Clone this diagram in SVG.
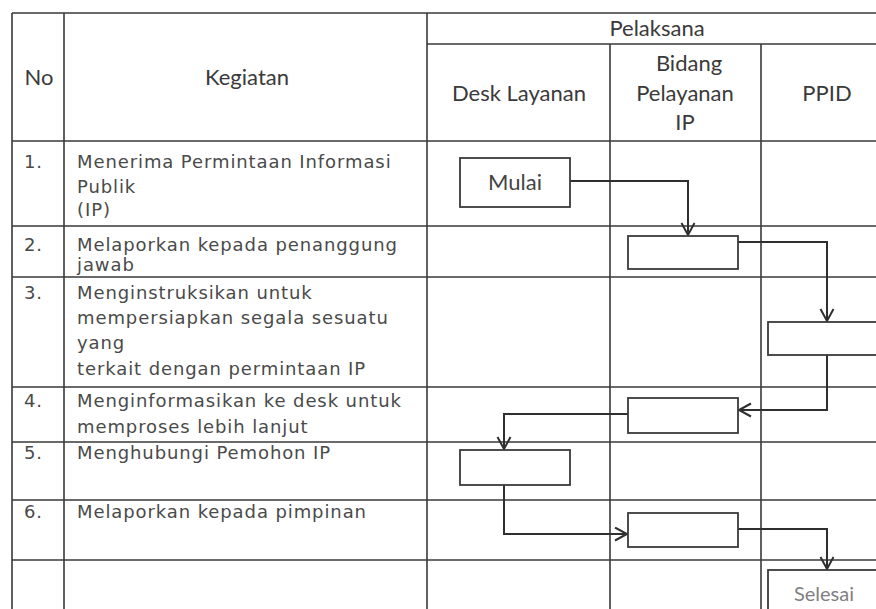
<svg xmlns="http://www.w3.org/2000/svg" width="876" height="609" viewBox="0 0 876 609">
<defs>
<style>
.bg{fill:#ffffff}
.grid{stroke:#3a3a3a;stroke-width:1.6;fill:none}
.box{fill:#ffffff;stroke:#3a3a3a;stroke-width:1.8}
.conn{fill:none;stroke:#2f2f2f;stroke-width:2}
.hd{font-family:Lato,"Open Sans",sans-serif;font-size:22px;fill:#3a3a3a;text-anchor:middle}
.bd{font-family:"DejaVu Sans",sans-serif;font-size:18px;letter-spacing:0.9px;fill:#4a4a4a}
.lbl{font-family:Lato,"Open Sans",sans-serif;font-size:22px;fill:#444444;text-anchor:middle}
.end{font-family:Lato,"Open Sans",sans-serif;font-size:20px;fill:#808080;text-anchor:middle}
</style>
<marker id="arr" markerUnits="userSpaceOnUse" markerWidth="16" markerHeight="16" refX="13" refY="7.5" orient="auto">
<path d="M1,1 L13,7.5 L1,14" fill="none" stroke="#2f2f2f" stroke-width="2"/>
</marker>
</defs>
<rect class="bg" x="0" y="0" width="876" height="609"/>
<g id="table">
<path class="grid" d="M12,13 H876 M427,44 H876 M12,141 H876 M12,226 H876 M12,277 H876 M12,387 H876 M12,442 H876 M12,500 H876 M12,560 H876 M12,13 V609 M64,13 V609 M427,13 V609 M610,44 V609 M761,44 V609"/>
<text class="hd" x="39" y="85">No</text>
<text class="hd" x="247" y="85">Kegiatan</text>
<text class="hd" x="657" y="36">Pelaksana</text>
<text class="hd" x="519" y="101">Desk Layanan</text>
<text class="hd" x="689" y="71">Bidang</text>
<text class="hd" x="685" y="101">Pelayanan</text>
<text class="hd" x="685" y="130">IP</text>
<text class="hd" x="827" y="101">PPID</text>
<text class="bd" x="24" y="168">1.</text>
<text class="bd" x="77" y="168">Menerima Permintaan Informasi</text>
<text class="bd" x="77" y="193">Publik</text>
<text class="bd" x="77" y="216">(IP)</text>
<text class="bd" x="24" y="251">2.</text>
<text class="bd" x="77" y="251">Melaporkan kepada penanggung</text>
<text class="bd" x="77" y="271">jawab</text>
<text class="bd" x="24" y="299">3.</text>
<text class="bd" x="77" y="299">Menginstruksikan untuk</text>
<text class="bd" x="77" y="324">mempersiapkan segala sesuatu</text>
<text class="bd" x="77" y="349">yang</text>
<text class="bd" x="77" y="375">terkait dengan permintaan IP</text>
<text class="bd" x="24" y="407">4.</text>
<text class="bd" x="77" y="407">Menginformasikan ke desk untuk</text>
<text class="bd" x="77" y="433">memproses lebih lanjut</text>
<text class="bd" x="24" y="459">5.</text>
<text class="bd" x="77" y="459">Menghubungi Pemohon IP</text>
<text class="bd" x="24" y="518">6.</text>
<text class="bd" x="77" y="518">Melaporkan kepada pimpinan</text>
</g>
<g id="connectors">
<path class="conn" d="M570,181 H688 V235" marker-end="url(#arr)"/>
<path class="conn" d="M738,242 H827 V321" marker-end="url(#arr)"/>
<path class="conn" d="M827,355 V410 H739" marker-end="url(#arr)"/>
<path class="conn" d="M628,414 H504 V449" marker-end="url(#arr)"/>
<path class="conn" d="M504,485 V534 H627" marker-end="url(#arr)"/>
<path class="conn" d="M738,529 H827 V569" marker-end="url(#arr)"/>
</g>
<g id="mulai">
<rect class="box" x="460" y="158" width="110" height="49"/>
<text class="lbl" x="515" y="190">Mulai</text>
</g>
<g id="step2"><rect class="box" x="628" y="236" width="110" height="33"/></g>
<g id="step3"><rect class="box" x="768" y="322" width="120" height="33"/></g>
<g id="step4"><rect class="box" x="628" y="398" width="110" height="35"/></g>
<g id="step5"><rect class="box" x="460" y="450" width="110" height="35"/></g>
<g id="step6"><rect class="box" x="628" y="513" width="110" height="34"/></g>
<g id="selesai">
<rect class="box" x="768" y="570" width="120" height="60"/>
<text class="end" x="824" y="601">Selesai</text>
</g>
</svg>
